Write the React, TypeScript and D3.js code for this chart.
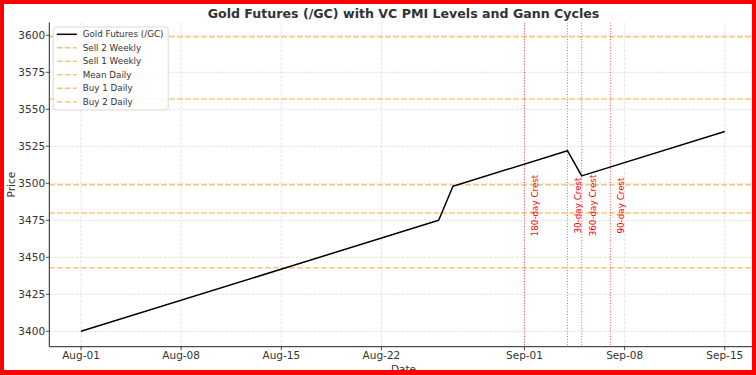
import React from "react";
import * as d3 from "d3";

const priceDates = ["2025-08-01", "2025-08-26", "2025-08-27", "2025-09-04", "2025-09-05", "2025-09-15"];
const priceValues = [3400, 3475, 3498, 3522, 3505, 3535];

const levelNames = ["Sell 2 Weekly", "Sell 1 Weekly", "Mean Daily", "Buy 1 Daily", "Buy 2 Daily"];
const levelValues = [3599, 3557, 3499, 3480, 3443];

const cycleLabels = ["180-day Crest", "30-day Crest", "360-day Crest", "90-day Crest"];
const cycleDates = ["2025-09-01", "2025-09-04", "2025-09-05", "2025-09-07"];

const xTickDates = ["2025-08-01", "2025-08-08", "2025-08-15", "2025-08-22", "2025-09-01", "2025-09-08", "2025-09-15"];
const yTicks = [3400, 3425, 3450, 3475, 3500, 3525, 3550, 3575, 3600];

const parse = (s: string) => new Date(s + "T00:00:00Z");
const fmt = d3.utcFormat("%b-%d");

export default function App() {
  const W = 756, H = 375;
  const axL = 49.3, axR = 758, axT = 22.5, axB = 346.7;
  const x = d3.scaleUtc().domain([parse("2025-08-01"), parse("2025-09-15")]).range([81, 724.8]);
  const y = d3.scaleLinear().domain([3400, 3600]).range([331.3, 35.3]);
  const font = "'DejaVu Sans', sans-serif";
  const textCol = "#333";

  const pts = priceDates.map((d, i) => [x(parse(d)), y(priceValues[i])] as [number, number]);
  const line = d3.line()(pts) || "";

  const levelColor = "rgba(232,165,40,0.62)";
  const legendRows = [{ name: "Gold Futures (/GC)", kind: "price" }, ...levelNames.map((n) => ({ name: n, kind: "level" }))];

  return (
    <svg width={W} height={H} style={{ position: "absolute", left: 0, top: 0, display: "block", background: "#fff" }} fontFamily={font}>
      <defs>
        <clipPath id="plot">
          <rect x={axL} y={axT} width={axR - axL} height={axB - axT} />
        </clipPath>
      </defs>
      <rect x={0} y={0} width={W} height={H} fill="#fff" />
      <text x={403.5} y={17.6} textAnchor="middle" fontSize={12.6} fontWeight="bold" fill={textCol}>
        Gold Futures (/GC) with VC PMI Levels and Gann Cycles
      </text>
      <g clipPath="url(#plot)">
        {yTicks.map((t) => (
          <line key={"gy" + t} x1={axL} x2={axR} y1={y(t)} y2={y(t)} stroke="#dcdcdc" strokeWidth={0.8} strokeDasharray="3 1.4" />
        ))}
        {xTickDates.map((d) => (
          <line key={"gx" + d} x1={x(parse(d))} x2={x(parse(d))} y1={axT} y2={axB} stroke="#dcdcdc" strokeWidth={0.8} strokeDasharray="3 1.4" />
        ))}
        {levelValues.map((v, i) => (
          <line key={"lv" + i} x1={axL} x2={axR} y1={y(v)} y2={y(v)} stroke={levelColor} strokeWidth={1.5} strokeDasharray="5.6 2.4" />
        ))}
        {cycleDates.map((d, i) => {
          const cx = x(parse(d));
          const ty = y(3485);
          return (
            <g key={"cy" + i}>
              <line x1={cx} x2={cx} y1={axT} y2={axB} stroke="rgba(255,0,0,0.65)" strokeWidth={1.05} strokeDasharray="1.05 1.7" />
              <text
                x={cx + 10.8}
                y={ty}
                transform={`rotate(-90 ${cx + 10.8} ${ty})`}
                textAnchor="middle"
                dominantBaseline="central"
                fontSize={8.75}
                fill="red"
              >
                {cycleLabels[i]}
              </text>
            </g>
          );
        })}
        <path d={line} fill="none" stroke="#000" strokeWidth={1.5} strokeLinejoin="round" />
      </g>
      <line x1={axL} x2={axL} y1={axT} y2={axB} stroke="#222" strokeWidth={1} />
      <line x1={axL} x2={axR} y1={axB} y2={axB} stroke="#222" strokeWidth={1} />
      {yTicks.map((t) => (
        <g key={"yt" + t}>
          <line x1={axL - 3.5} x2={axL} y1={y(t)} y2={y(t)} stroke="#222" strokeWidth={0.8} />
          <text x={axL - 4.2} y={y(t)} textAnchor="end" dominantBaseline="central" fontSize={10.5} fill={textCol}>
            {t}
          </text>
        </g>
      ))}
      {xTickDates.map((d) => {
        const px = x(parse(d));
        return (
          <g key={"xt" + d}>
            <line x1={px} x2={px} y1={axB} y2={axB + 3.5} stroke="#222" strokeWidth={0.8} />
            <text x={px} y={358.5} textAnchor="middle" fontSize={10.5} fill={textCol}>
              {fmt(parse(d))}
            </text>
          </g>
        );
      })}
      <text x={403.5} y={372.5} textAnchor="middle" fontSize={10.5} fill={textCol}>Date</text>
      <text x={11} y={184.6} transform="rotate(-90 11 184.6)" textAnchor="middle" dominantBaseline="central" fontSize={10.5} fill={textCol}>
        Price
      </text>
      <rect x={53.2} y={27} width={115} height={83} rx={2.5} fill="rgba(255,255,255,0.85)" stroke="#d0d0d0" strokeWidth={0.8} />
      {legendRows.map((r, i) => {
        const ry = 34.3 + i * 13.47;
        return (
          <g key={"lg" + i}>
            <line
              x1={56.8}
              x2={76.8}
              y1={ry}
              y2={ry}
              stroke={r.kind === "price" ? "#000" : levelColor}
              strokeWidth={1.5}
              strokeDasharray={r.kind === "price" ? undefined : "5.6 2.4"}
            />
            <text x={82.7} y={ry} dominantBaseline="central" fontSize={8.75} fill={textCol}>
              {r.name}
            </text>
          </g>
        );
      })}
      <rect x={0} y={0} width={W} height={4} fill="red" />
      <rect x={0} y={370} width={W} height={5} fill="red" />
      <rect x={0} y={0} width={4} height={H} fill="red" />
      <rect x={752} y={0} width={4} height={H} fill="red" />
    </svg>
  );
}
